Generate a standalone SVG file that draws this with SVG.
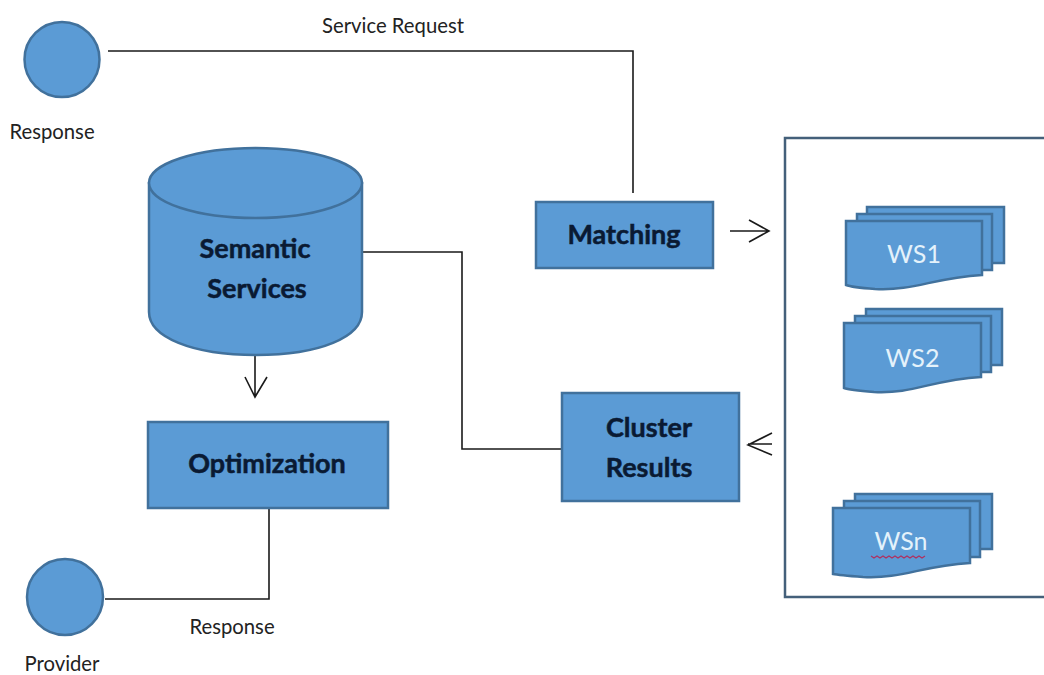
<svg xmlns="http://www.w3.org/2000/svg" width="1044" height="675" viewBox="0 0 1044 675">
<style>
.s{fill:#5b9bd5;stroke:#41719c;stroke-width:2.500}
.l{fill:none;stroke:#1a1a1a;stroke-width:1.600}
.b{font-family:Lato,"Liberation Sans",sans-serif;font-weight:700;font-size:27px;fill:#0a1a33;stroke:#0a1a33;stroke-width:.5;text-anchor:middle}
.t{font-family:Lato,"Liberation Sans",sans-serif;font-size:20.300px;fill:#222;text-anchor:middle}
.w{font-family:Lato,"Liberation Sans",sans-serif;font-size:25px;fill:#e4f2fb;text-anchor:middle}
</style>
<rect width="1044" height="675" fill="#fff"/>
<g id="connectors">
<path class="l" d="M108 51H633V193"/>
<path class="l" d="M362 252H462V449H562"/>
<path class="l" d="M255 355V397M245 377L255 397L267 377"/>
<path class="l" d="M730 231H769M749 220L769 231L749 242"/>
<path class="l" d="M772 444H748M772 433L748 445L772 455"/>
<path class="l" d="M269 507V599H105"/>
</g>
<g id="requester"><circle class="s" cx="62" cy="59.500" r="37.500"/><text class="t" x="52" y="139">Response</text></g>
<g id="semantic-services">
<path class="s" d="M149 183V312C149 337 192 355 256 355C320 355 362 337 362 312V183Z"/>
<ellipse class="s" cx="255.500" cy="183" rx="106.500" ry="35"/>
<text class="b" x="255" y="258">Semantic</text><text class="b" x="257" y="298">Services</text>
</g>
<g id="matching"><rect class="s" x="536" y="202" width="177" height="66"/><text class="b" x="624" y="244">Matching</text></g>
<g id="optimization"><rect class="s" x="148" y="422" width="240" height="86"/><text class="b" x="267" y="473">Optimization</text></g>
<g id="cluster-results"><rect class="s" x="562" y="393" width="177" height="108"/><text class="b" x="649" y="437">Cluster</text><text class="b" x="649" y="477">Results</text></g>
<g id="provider"><circle class="s" cx="65" cy="597" r="38"/><text class="t" x="62" y="671">Provider</text></g>
<text class="t" x="393" y="33">Service Request</text>
<text class="t" x="232" y="634">Response</text>
<g id="ws-panel"><path d="M1044 138H785V597H1044" fill="none" stroke="#44607a" stroke-width="2.500"/></g>
<g id="ws1">
<rect class="s" x="867" y="207" width="137" height="56"/><rect class="s" x="857" y="214" width="135" height="56"/><path class="s" d="M846 221H982V275C932 278 915 291 875 289C862 288 851 287 846 285Z"/>
<text class="w" x="914" y="263">WS1</text>
</g>
<g id="ws2">
<rect class="s" x="866" y="309" width="136" height="56"/><rect class="s" x="855" y="316" width="136" height="56"/><path class="s" d="M844 323H981V377C931 380 914 394 874 392C861 391 849 390 844 388Z"/>
<text class="w" x="912.500" y="367">WS2</text>
</g>
<g id="wsn">
<rect class="s" x="855" y="494" width="137" height="55"/><rect class="s" x="844" y="501" width="136" height="56"/><path class="s" d="M833 508H970V563C920 566 903 579 863 577C850 576 838 575 833 574Z"/>
<text class="w" x="901" y="550">WSn</text>
<path d="M871 556l3 2 3-2 3 2 3-2 3 2 3-2 3 2 3-2 3 2 3-2 3 2 3-2 3 2 3-2 3 2 3-2 3 2 3-2" fill="none" stroke="#b03060" stroke-width="1.200"/>
</g>
</svg>
